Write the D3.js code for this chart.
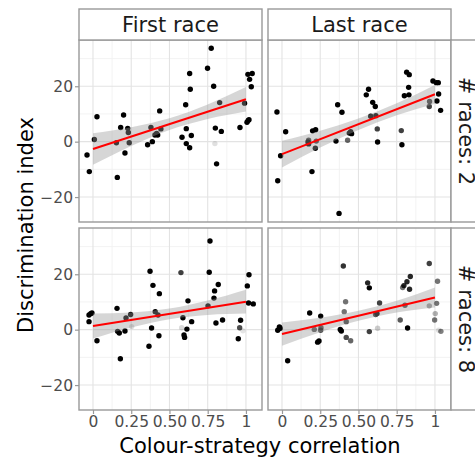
<!DOCTYPE html>
<html>
<head>
<meta charset="utf-8">
<script src="https://cdn.jsdelivr.net/npm/d3@7"></script>
<style>
  body { margin: 0; background: #fff; }
  svg { font-family: "DejaVu Sans", sans-serif; }
</style>
</head>
<body>
<div id="chart"></div>
<script>
// Facet labels
var colLabels = ["First race", "Last race"];
var rowLabels = ["# races: 2", "# races: 8"];

// Points per panel: [correlation, discrimination index, alpha]
var pointsFirst2 = [
  [-0.039, -4.8, 1], [-0.024, -10.8, 1], [0.009, 0.8, 1], [0.026, 9.0, 1], [0.159, -12.9, 1],
  [0.153, -0.4, 1], [0.2, 9.6, 1], [0.181, 5.1, 1], [0.209, -4.1, 1], [0.227, 4.8, 1],
  [0.231, 3.3, 1], [0.237, -0.4, 1], [0.357, -1.1, 1], [0.388, 0, 1], [0.379, 5.1, 1],
  [0.405, 2.4, 1], [0.423, 2.4, 1], [0.436, 11.1, 1], [0.444, 4.6, 1], [0.416, 3.0, 1],
  [0.582, 1.6, 1], [0.606, 13.3, 1], [0.61, 4.7, 1], [0.61, -0.7, 1], [0.632, -2.2, 1],
  [0.643, 2.2, 1], [0.632, 24.6, 1], [0.636, 18.9, 1], [0.749, 26.5, 1], [0.773, 33.7, 1],
  [0.789, 20.0, 1], [0.797, -0.7, 0.12], [0.8, 4.9, 1], [0.808, -8.0, 1], [0.828, 14.1, 1],
  [0.839, 3.7, 1], [0.961, 5.1, 1], [0.991, 13.9, 1], [1.007, 7.0, 1], [1.015, 7.7, 1],
  [1.02, 7.9, 1], [1.013, 24.3, 1], [1.041, 24.6, 1], [1.024, 22.5, 1], [1.035, 19.8, 1]
];
var pointsLast2 = [
  [-0.033, 10.7, 1], [-0.028, -14.1, 1], [-0.009, -5.1, 1], [0.024, 3.6, 1], [0.17, -0.1, 1],
  [0.174, -0.8, 1], [0.174, 0.5, 0.75], [0.196, -10.8, 1], [0.2, 3.9, 1], [0.22, 4.3, 1],
  [0.218, -2.4, 1], [0.224, 0.2, 0.75], [0.353, 0.2, 1], [0.364, 13.3, 1], [0.392, 10.6, 1],
  [0.373, -25.9, 1], [0.429, 0.5, 0.6], [0.44, 3.1, 1], [0.449, 3.6, 1], [0.455, 2.9, 1],
  [0.551, 16.9, 1], [0.566, 18.9, 1], [0.593, 14.2, 1], [0.61, 12.7, 1], [0.58, 9.2, 1],
  [0.614, 9.4, 1], [0.623, 4.6, 0.75], [0.625, -0.1, 1], [0.78, 4.0, 0.75], [0.784, -1.1, 1],
  [0.8, 16.6, 1], [0.815, 25.1, 1], [0.832, 24.2, 1], [0.828, 19.6, 1], [0.83, 16.9, 1],
  [0.963, 12.7, 0.75], [0.965, 14.5, 0.75], [0.987, 21.9, 1], [1.009, 21.3, 1], [1.022, 21.3, 1],
  [1.024, 17.2, 1], [1.013, 14.7, 1], [1.037, 11.3, 1]
];
var pointsFirst8 = [
  [-0.026, 5.3, 1], [-0.015, 5.8, 1], [-0.007, 6.0, 1], [-0.026, 2.9, 1], [0.026, -4.0, 1],
  [0.157, 7.7, 1], [0.161, -0.6, 1], [0.172, -1.2, 1], [0.179, -10.5, 1], [0.209, -0.5, 1],
  [0.216, 4.2, 1], [0.246, 5.5, 1], [0.253, 1.1, 0.15], [0.373, 21.1, 1], [0.392, 16.0, 1],
  [0.434, 13.0, 1], [0.383, 0.6, 1], [0.366, -6.0, 1], [0.407, 6.5, 1], [0.425, 5.3, 1],
  [0.431, -2.2, 1], [0.575, 20.6, 0.75], [0.58, 0.7, 0.15], [0.588, 4.3, 1], [0.595, -1.9, 1],
  [0.599, -2.8, 1], [0.614, 0.2, 1], [0.621, 10.4, 1], [0.645, 2.9, 1], [0.765, 32.0, 1],
  [0.76, 20.7, 1], [0.752, 8.6, 1], [0.791, 11.4, 1], [0.795, 14.0, 1], [0.819, 16.3, 1],
  [0.804, 2.4, 1], [0.847, 3.5, 1], [0.95, -3.3, 1], [0.959, 0.7, 0.7], [0.965, 3.4, 1],
  [0.98, -0.4, 0.1], [1.009, 15.8, 1], [1.02, 19.8, 1], [1.017, 9.6, 1], [1.048, 9.3, 1]
];
var pointsLast8 = [
  [-0.028, -0.2, 1], [-0.017, 1.0, 1], [-0.011, 0.5, 1], [0.037, -11.2, 1], [0.181, 6.0, 1],
  [0.211, 0.1, 0.65], [0.233, -4.5, 1], [0.242, -4.1, 1], [0.253, 4.9, 1], [0.253, -0.2, 0.7],
  [0.255, 0.7, 0.7], [0.381, 0.1, 1], [0.388, -0.5, 1], [0.401, 23.0, 0.8], [0.407, 6.5, 0.55],
  [0.416, 10.1, 0.55], [0.42, 2.9, 0.75], [0.42, -2.8, 0.7], [0.449, -4.0, 0.6], [0.56, 16.9, 0.85],
  [0.571, 15.1, 1], [0.571, -0.7, 0.75], [0.612, 5.5, 0.75], [0.621, 5.8, 1], [0.625, 0.5, 0.2],
  [0.638, 9.6, 0.75], [0.773, 3.5, 0.65], [0.789, 15.2, 0.55], [0.797, 15.9, 0.85], [0.804, 8.8, 0.7],
  [0.817, 17.3, 0.85], [0.821, 0.6, 1], [0.834, 14.6, 0.85], [0.839, 19.2, 0.85], [0.963, 23.9, 0.75],
  [0.963, 8.6, 0.4], [0.998, 3.5, 0.55], [1.002, 5.8, 0.3], [1.011, 9.5, 0.55], [1.017, 17.5, 0.55],
  [1.024, -0.2, 0.12], [1.039, -0.6, 0.5]
];

// Linear fit: value at x = 0 and x = 1, and CI half-widths at bandX
var bandX = [0, 0.25, 0.5, 0.75, 1];
var fitFirst2 = [-2.65, 15.3], bandFirst2 = [5.7, 3.4, 2.1, 2.6, 4.4];
var fitLast2 = [-4.5, 17.1], bandLast2 = [4.8, 3.0, 2.1, 2.2, 3.4];
var fitFirst8 = [1.3, 10.1], bandFirst8 = [4.5, 2.7, 1.9, 2.6, 4.3];
var fitLast8 = [-1.6, 11.6], bandLast8 = [4.2, 2.6, 1.8, 2.1, 3.6];

var xTicks = [0, 0.25, 0.5, 0.75, 1];
var xTickLabels = ["0", "0.25", "0.50", "0.75", "1"];
var yTicks = [-20, 0, 20];
var yTickLabels = ["\u221220", "0", "20"];

var panels = [
  {row: 0, col: 0, pts: pointsFirst2, fit: fitFirst2, band: bandFirst2},
  {row: 0, col: 1, pts: pointsLast2, fit: fitLast2, band: bandLast2},
  {row: 1, col: 0, pts: pointsFirst8, fit: fitFirst8, band: bandFirst8},
  {row: 1, col: 1, pts: pointsLast8, fit: fitLast8, band: bandLast8}
];

var W = 475, H = 461;
var colX = [79, 268], rowY = [40, 228];
var pw = 183, ph = 182, stripH = 31;
var border = "#999999", tickCol = "#4d4d4d";

var svg = d3.select("#chart").append("svg")
    .attr("width", W)
    .attr("height", H);

var y = d3.scaleLinear().domain([-29, 36.7]);
var xMinor = [0.125, 0.375, 0.625, 0.875];
var yMinor = [-30, -10, 10, 30];

panels.forEach(function(p) {
  var x = d3.scaleLinear().domain([-0.0915, 1.105]).range([colX[p.col], colX[p.col] + pw]);
  var yy = y.copy().range([rowY[p.row] + ph, rowY[p.row]]);
  var g = svg.append("g");

  g.append("defs").append("clipPath").attr("id", "clip" + p.row + p.col)
    .append("rect").attr("x", colX[p.col]).attr("y", rowY[p.row]).attr("width", pw).attr("height", ph);

  var inner = g.append("g").attr("clip-path", "url(#clip" + p.row + p.col + ")");

  // gridlines
  inner.selectAll(".vminor").data(xMinor).enter().append("line")
    .attr("x1", function(d) { return x(d); }).attr("x2", function(d) { return x(d); })
    .attr("y1", rowY[p.row]).attr("y2", rowY[p.row] + ph)
    .style("stroke", "#f0f0f0").style("stroke-width", 0.8);
  inner.selectAll(".hminor").data(yMinor).enter().append("line")
    .attr("y1", function(d) { return yy(d); }).attr("y2", function(d) { return yy(d); })
    .attr("x1", colX[p.col]).attr("x2", colX[p.col] + pw)
    .style("stroke", "#f0f0f0").style("stroke-width", 0.8);
  inner.selectAll(".vmajor").data(xTicks).enter().append("line")
    .attr("x1", function(d) { return x(d); }).attr("x2", function(d) { return x(d); })
    .attr("y1", rowY[p.row]).attr("y2", rowY[p.row] + ph)
    .style("stroke", "#e3e3e3").style("stroke-width", 1.1);
  inner.selectAll(".hmajor").data(yTicks).enter().append("line")
    .attr("y1", function(d) { return yy(d); }).attr("y2", function(d) { return yy(d); })
    .attr("x1", colX[p.col]).attr("x2", colX[p.col] + pw)
    .style("stroke", "#e3e3e3").style("stroke-width", 1.1);

  // points
  inner.selectAll("circle").data(p.pts).enter().append("circle")
    .attr("cx", function(d) { return x(d[0]); })
    .attr("cy", function(d) { return yy(d[1]); })
    .attr("r", 2.7)
    .style("fill", "#000")
    .style("fill-opacity", function(d) { return d[2]; });

  // confidence band (drawn over the points) + fit line
  var bandData = bandX.map(function(bx, i) {
    var c = p.fit[0] + (p.fit[1] - p.fit[0]) * bx;
    return {x: bx, lo: c - p.band[i], hi: c + p.band[i]};
  });
  var area = d3.area()
    .x(function(d) { return x(d.x); })
    .y0(function(d) { return yy(d.lo); })
    .y1(function(d) { return yy(d.hi); })
    .curve(d3.curveMonotoneX);
  inner.append("path").datum(bandData).attr("d", area)
    .style("fill", "#999").style("fill-opacity", 0.4);

  inner.append("line")
    .attr("x1", x(0)).attr("y1", yy(p.fit[0]))
    .attr("x2", x(1)).attr("y2", yy(p.fit[1]))
    .style("stroke", "#ff0000").style("stroke-width", 2);

  // panel border
  g.append("rect").attr("x", colX[p.col]).attr("y", rowY[p.row])
    .attr("width", pw).attr("height", ph)
    .style("fill", "none").style("stroke", border).style("stroke-width", 1.4);

  // axes
  if (p.col === 0) {
    var ya = g.append("g").attr("transform", "translate(" + colX[0] + ",0)")
      .call(d3.axisLeft(yy).tickValues(yTicks).tickSize(4).tickPadding(2)
        .tickFormat(function(d, i) { return yTickLabels[i]; }));
    ya.select(".domain").remove();
    ya.selectAll("line").style("stroke", border).style("stroke-width", 1.2);
    ya.selectAll("text").style("font-size", "15.5px").style("fill", tickCol)
      .style("font-family", "DejaVu Sans, sans-serif");
  }
  if (p.row === 1) {
    var xa = g.append("g").attr("transform", "translate(0," + (rowY[1] + ph) + ")")
      .call(d3.axisBottom(x).tickValues(xTicks).tickSize(4).tickPadding(2)
        .tickFormat(function(d, i) { return xTickLabels[i]; }));
    xa.select(".domain").remove();
    xa.selectAll("line").style("stroke", border).style("stroke-width", 1.2);
    xa.selectAll("text").style("font-size", "15.5px").style("fill", tickCol)
      .style("font-family", "DejaVu Sans, sans-serif");
  }
});

// top strips
colLabels.forEach(function(lab, i) {
  svg.append("rect").attr("x", colX[i]).attr("y", rowY[0] - stripH)
    .attr("width", pw).attr("height", stripH)
    .style("fill", "#fff").style("stroke", border).style("stroke-width", 1.4);
  svg.append("text").attr("x", colX[i] + pw / 2).attr("y", rowY[0] - stripH / 2)
    .attr("text-anchor", "middle").attr("dy", "0.36em")
    .style("font-size", "21px").style("fill", "#1a1a1a")
    .text(lab);
});

// right strips (run past the right edge, as in the original)
rowLabels.forEach(function(lab, i) {
  var sx = colX[1] + pw;
  svg.append("rect").attr("x", sx).attr("y", rowY[i])
    .attr("width", stripH).attr("height", ph)
    .style("fill", "#fff").style("stroke", border).style("stroke-width", 1.4);
  svg.append("text")
    .attr("transform", "translate(" + (sx + stripH / 2) + "," + (rowY[i] + ph / 2) + ") rotate(90)")
    .attr("text-anchor", "middle").attr("dy", "0.36em")
    .style("font-size", "21px").style("fill", "#1a1a1a")
    .text(lab);
});

// axis titles
svg.append("text").attr("x", 260).attr("y", 453)
  .attr("text-anchor", "middle")
  .style("font-size", "21px").style("fill", "#000")
  .text("Colour-strategy correlation");

svg.append("text")
  .attr("transform", "translate(33,225) rotate(-90)")
  .attr("text-anchor", "middle")
  .style("font-size", "21px").style("fill", "#000")
  .text("Discrimination index");
</script>
</body>
</html>
